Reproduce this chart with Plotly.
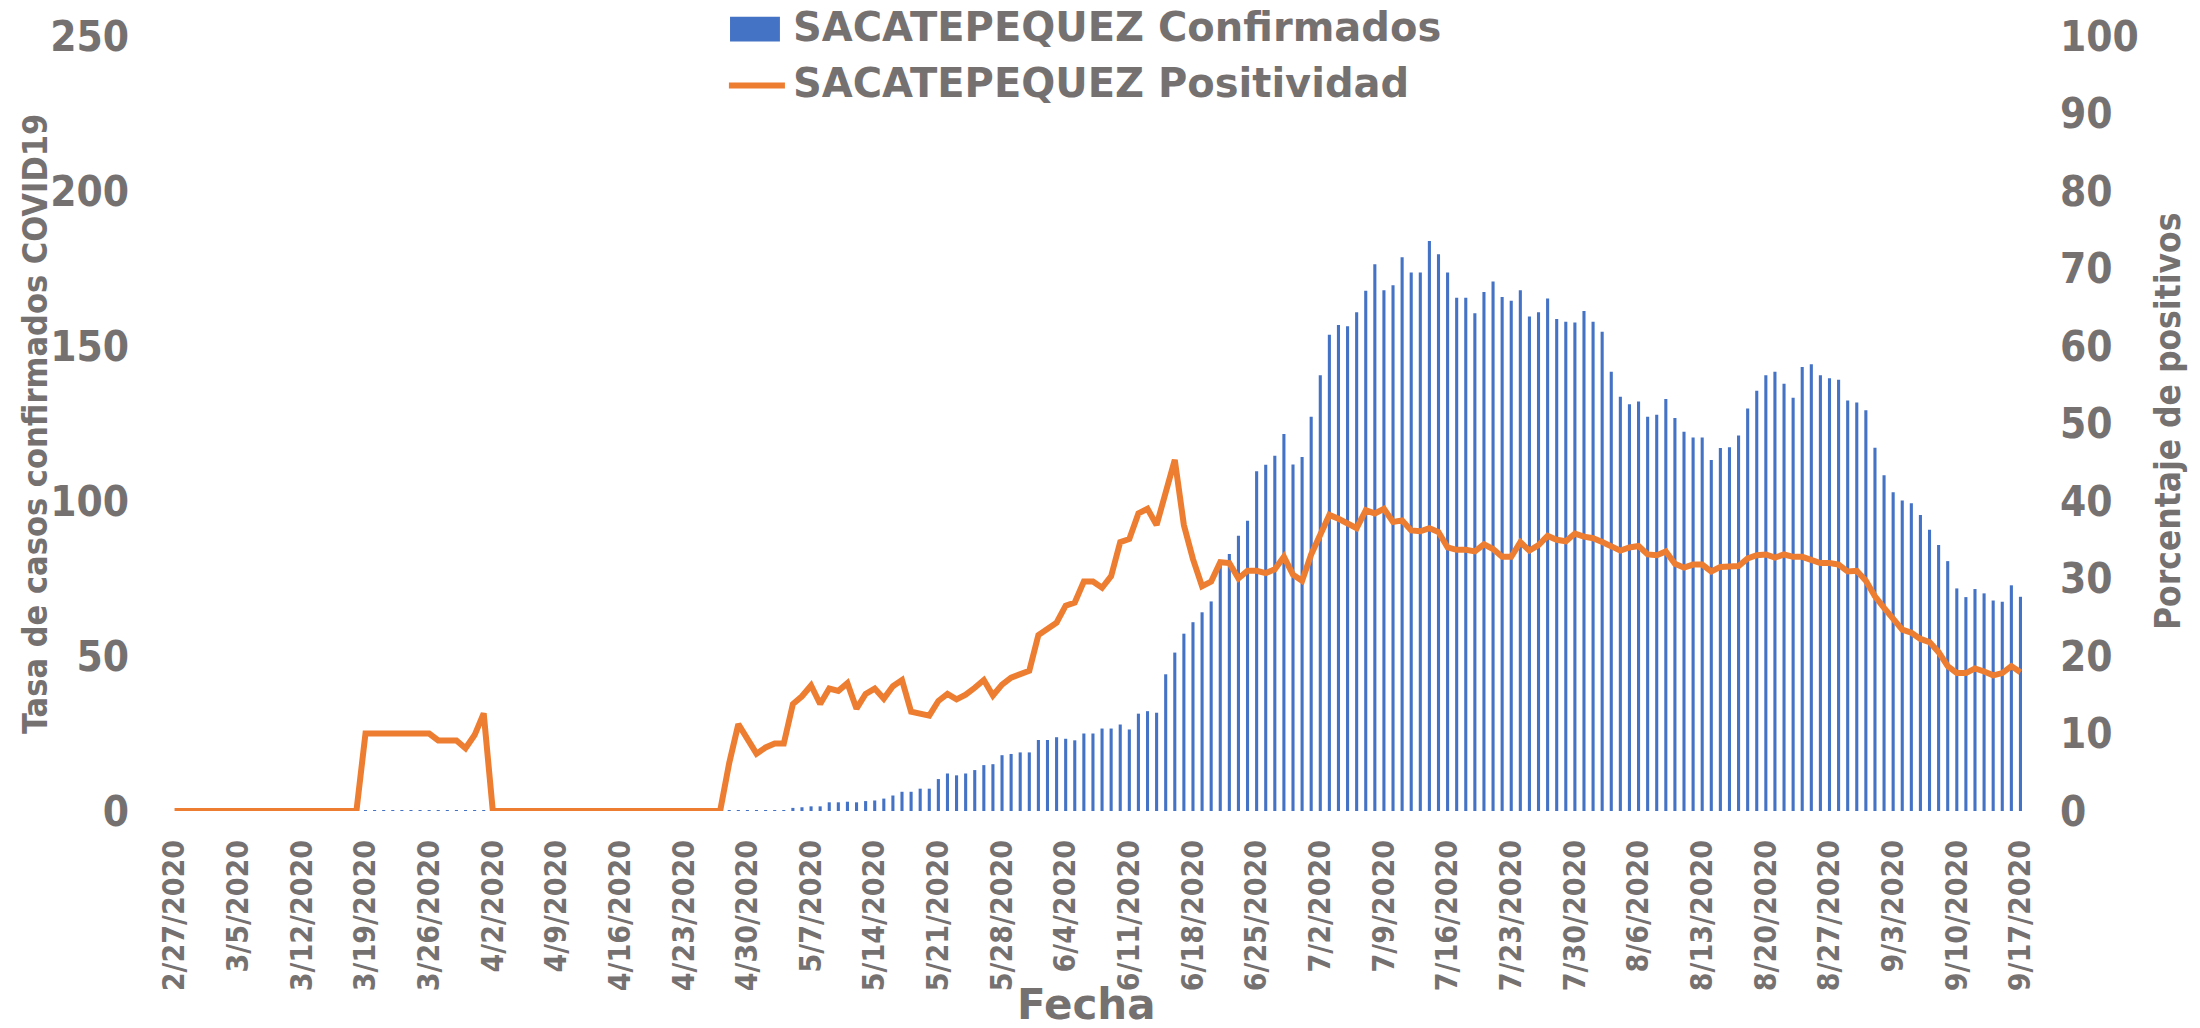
import pandas as pd
import plotly.graph_objects as go

# Daily categories 2/27/2020 .. 9/17/2020
fechas = [f"{d.month}/{d.day}/{d.year}" for d in pd.date_range("2020-02-27", "2020-09-17", freq="D")]

confirmados = [
    0, 0, 0, 0, 0, 0, 0, 0, 0, 0,
    0, 0, 0, 0, 0, 0, 0, 0, 0, 0,
    0, 0.3, 0.3, 0.3, 0.3, 0.3, 0.3, 0.3, 0.3, 0.3,
    0.3, 0.3, 0.3, 0.3, 0.3, 0, 0, 0, 0, 0,
    0, 0, 0, 0, 0, 0, 0, 0, 0, 0,
    0, 0, 0, 0, 0, 0, 0, 0, 0, 0,
    0, 0.3, 0.3, 0.3, 0.3, 0.3, 0.3, 0.3, 1.0, 1.2,
    1.5, 1.5, 2.8, 2.8, 3.0, 2.8, 3.2, 3.4, 4.0, 5.0,
    6.2, 6.2, 7.2, 7.2, 10.3, 12.1, 11.5, 12.1, 13.2, 14.8,
    15.1, 18.0, 18.4, 18.9, 18.9, 22.9, 22.9, 23.8, 23.3, 22.8,
    25.0, 25.0, 26.6, 26.6, 27.9, 26.3, 31.4, 32.2, 31.7, 44.1,
    51.1, 57.2, 60.9, 64.1, 67.6, 80.9, 82.9, 88.8, 93.6, 109.6,
    111.7, 114.6, 121.6, 111.8, 114.2, 127.2, 140.6, 153.6, 156.8, 156.4,
    160.9, 167.8, 176.4, 168.0, 169.6, 178.6, 173.7, 173.7, 183.9, 179.6,
    173.7, 165.6, 165.6, 160.6, 167.4, 170.8, 165.8, 164.6, 168.0, 159.5,
    160.9, 165.3, 158.7, 157.8, 157.6, 161.3, 157.8, 154.6, 141.7, 133.6,
    131.2, 132.1, 127.2, 127.8, 132.9, 126.8, 122.3, 120.5, 120.5, 113.2,
    117.1, 117.3, 121.1, 129.8, 135.6, 140.6, 141.7, 137.8, 133.3, 143.2,
    144.1, 140.6, 139.6, 139.1, 132.4, 131.8, 129.3, 117.2, 108.3, 102.8,
    100.2, 99.3, 95.5, 90.7, 85.8, 80.6, 71.8, 69.0, 71.6, 70.2,
    67.9, 67.5, 72.8, 69.1,
]

positividad = [
    0, 0, 0, 0, 0, 0, 0, 0, 0, 0,
    0, 0, 0, 0, 0, 0, 0, 0, 0, 0,
    0, 10.0, 10.0, 10.0, 10.0, 10.0, 10.0, 10.0, 10.0, 9.1,
    9.1, 9.1, 8.1, 9.8, 12.6, 0, 0, 0, 0, 0,
    0, 0, 0, 0, 0, 0, 0, 0, 0, 0,
    0, 0, 0, 0, 0, 0, 0, 0, 0, 0,
    0, 6.2, 11.2, 9.3, 7.4, 8.2, 8.7, 8.7, 13.8, 14.8,
    16.2, 13.8, 15.8, 15.5, 16.5, 13.2, 15.1, 15.8, 14.5, 16.1,
    16.9, 12.8, 12.6, 12.3, 14.2, 15.1, 14.4, 15.0, 15.9, 16.9,
    14.9, 16.3, 17.2, 17.7, 18.1, 22.7, 23.6, 24.3, 26.5, 26.9,
    29.6, 29.6, 28.8, 30.3, 34.7, 35.1, 38.4, 39.0, 36.9, 41.2,
    45.3, 36.9, 32.5, 29.0, 29.6, 32.1, 32.0, 30.0, 31.0, 31.0,
    30.7, 31.2, 32.8, 30.5, 29.7, 33.1, 35.8, 38.2, 37.7, 37.0,
    36.5, 38.8, 38.4, 39.0, 37.3, 37.5, 36.2, 36.1, 36.5, 36.0,
    34.0, 33.7, 33.7, 33.5, 34.4, 33.8, 32.8, 32.8, 34.7, 33.6,
    34.3, 35.5, 35.0, 34.8, 35.8, 35.4, 35.2, 34.7, 34.2, 33.6,
    34.0, 34.2, 33.1, 33.0, 33.5, 31.9, 31.4, 31.8, 31.8, 30.9,
    31.5, 31.5, 31.6, 32.6, 33.0, 33.1, 32.7, 33.1, 32.8, 32.8,
    32.5, 32.0, 32.0, 31.8, 30.9, 31.0, 29.7, 27.7, 26.2, 24.8,
    23.4, 23.0, 22.2, 21.8, 20.5, 18.7, 17.8, 17.8, 18.4, 18.0,
    17.5, 17.8, 18.7, 17.9,
]

tick_fechas = fechas[::7]
left_ticks = [0, 50, 100, 150, 200, 250]
right_ticks = [0, 10, 20, 30, 40, 50, 60, 70, 80, 90, 100]

serie_conf = "SACATEPEQUEZ Confirmados"
serie_pos = "SACATEPEQUEZ Positividad"

GRAY = "#767171"
BLUE = "#4472C4"
ORANGE = "#ED7D31"
NARROW = "DejaVu Sans Condensed, Liberation Sans Narrow, Arial Narrow, sans-serif"
LEG = "DejaVu Sans, Open Sans, sans-serif"

fig = go.Figure()
fig.add_trace(go.Bar(
    x=fechas, y=confirmados, name=serie_conf,
    marker=dict(color=BLUE, line=dict(width=0)), yaxis="y",
))
fig.add_trace(go.Scatter(
    x=fechas, y=positividad, name=serie_pos,
    mode="lines", line=dict(color=ORANGE, width=6), yaxis="y2",
))

fig.update_layout(
    width=2200, height=1028,
    margin=dict(l=170, r=175, t=28, b=217),
    paper_bgcolor="white", plot_bgcolor="white",
    bargap=0.66,
    showlegend=False,
    xaxis=dict(
        type="category", range=[-0.5, len(fechas) - 0.5],
        tickmode="array", tickvals=tick_fechas, ticktext=tick_fechas,
        tickangle=-90, showgrid=False, showline=False, zeroline=False,
        ticks="", ticklabelstandoff=22, ticklabeloverflow="allow",
        tickfont=dict(family=NARROW, size=30, color=GRAY, weight="bold"),
    ),
    yaxis=dict(
        range=[0, 250], tickmode="array", tickvals=left_ticks,
        showgrid=False, showline=False, zeroline=False, ticks="",
        ticklabelstandoff=40, ticklabeloverflow="allow",
        tickfont=dict(family=NARROW, size=42, color=GRAY, weight="bold"),
    ),
    yaxis2=dict(
        range=[0, 100], tickmode="array", tickvals=right_ticks,
        overlaying="y", side="right",
        showgrid=False, showline=False, zeroline=False, ticks="",
        ticklabelstandoff=34, ticklabeloverflow="allow",
        tickfont=dict(family=NARROW, size=42, color=GRAY, weight="bold"),
    ),
    shapes=[
        dict(type="rect", xref="paper", yref="paper",
             x0=0.3019, x1=0.3288, y0=0.9930, y1=1.0250,
             fillcolor=BLUE, line=dict(width=0)),
        dict(type="line", xref="paper", yref="paper",
             x0=0.3013, x1=0.3315, y0=0.9360, y1=0.9360,
             line=dict(color=ORANGE, width=6)),
    ],
    annotations=[
        dict(text=serie_conf, xref="paper", yref="paper", x=0.3348, y=1.011,
             xanchor="left", yanchor="middle", showarrow=False,
             font=dict(family=LEG, size=40, color=GRAY, weight="bold")),
        dict(text=serie_pos, xref="paper", yref="paper", x=0.3348, y=0.9395,
             xanchor="left", yanchor="middle", showarrow=False,
             font=dict(family=LEG, size=40, color=GRAY, weight="bold")),
        dict(text="Fecha", xref="paper", yref="paper", x=0.494, y=-0.2835,
             xanchor="center", yanchor="bottom", showarrow=False,
             font=dict(family=LEG, size=42, color=GRAY, weight="bold")),
        dict(text="Tasa de casos confirmados COVID19", xref="paper", yref="paper",
             x=-0.0728, y=0.4994, xanchor="center", yanchor="middle", showarrow=False,
             textangle=-90,
             font=dict(family=NARROW, size=34, color=GRAY, weight="bold")),
        dict(text="Porcentaje de positivos", xref="paper", yref="paper",
             x=1.077, y=0.503, xanchor="center", yanchor="middle", showarrow=False,
             textangle=-90,
             font=dict(family=NARROW, size=35, color=GRAY, weight="bold")),
    ],
)

fig.write_html("out.html", config={"displayModeBar": False},
               post_script="document.body.style.margin='0';")
